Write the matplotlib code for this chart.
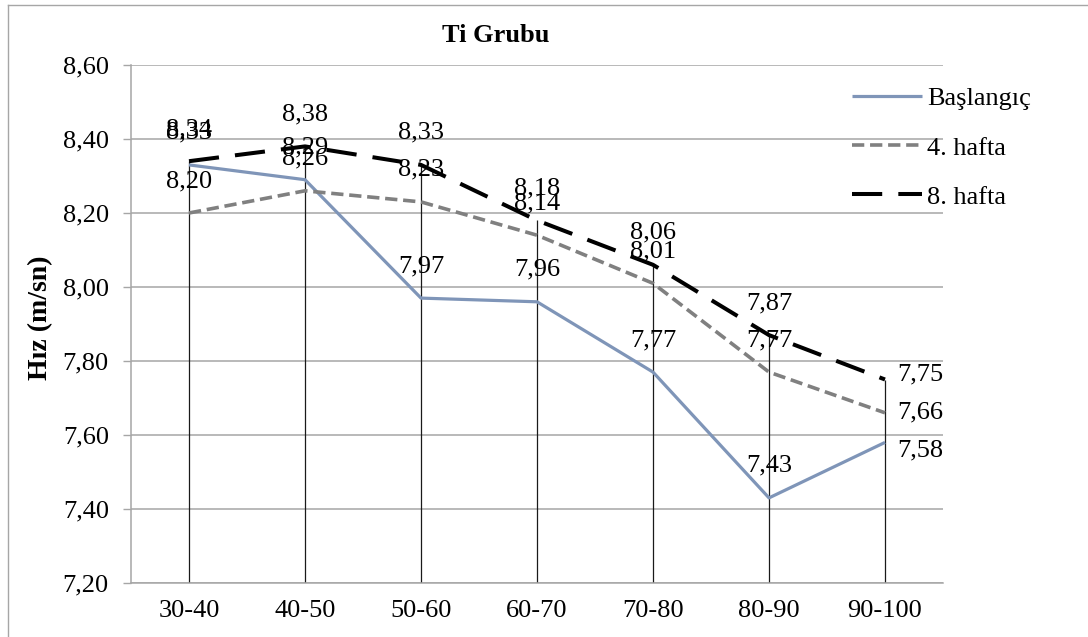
import matplotlib
matplotlib.use("Agg")
import matplotlib.pyplot as plt
from matplotlib.lines import Line2D

categories = ["30-40", "40-50", "50-60", "60-70", "70-80", "80-90", "90-100"]
baslangic = [8.33, 8.29, 7.97, 7.96, 7.77, 7.43, 7.58]
hafta4 = [8.20, 8.26, 8.23, 8.14, 8.01, 7.77, 7.66]
hafta8 = [8.34, 8.38, 8.33, 8.18, 8.06, 7.87, 7.75]
yticks = [7.20, 7.40, 7.60, 7.80, 8.00, 8.20, 8.40, 8.60]

plt.rcParams.update({
    "font.family": ["Liberation Serif", "DejaVu Serif"],
    "font.size": 19,
})

W, H = 1088, 637
fig = plt.figure(figsize=(W / 100, H / 100), dpi=100)
ax = fig.add_axes([131 / W, 54 / H, (943 - 131) / W, 518 / H])

x = list(range(len(categories)))
grid_c = "#a6a6a6"

# drop lines from the highest series down to the axis
tops = [max(a, b, c) for a, b, c in zip(baslangic, hafta4, hafta8)]
ax.vlines(x, yticks[0], tops, color="#1a1a1a", lw=0.9, zorder=2)

ax.plot(x, baslangic, color="#7f95b8", lw=2.3, solid_capstyle="butt",
        label="Başlangıç", zorder=3)
ax.plot(x, hafta4, color="#808080", lw=2.6, dashes=(3.4, 1.6),
        label="4. hafta", zorder=4)
ax.plot(x, hafta8, color="black", lw=2.9, dashes=(7.5, 4.0),
        label="8. hafta", zorder=5)

def fmt(v):
    return f"{v:.2f}".replace(".", ",")

last = len(categories) - 1
right_dy = {"b": -8, "4": 0, "8": 5}
for key, series in (("b", baslangic), ("4", hafta4), ("8", hafta8)):
    for i, v in enumerate(series):
        if i == last:
            ax.annotate(fmt(v), (i, v), xytext=(12, right_dy[key]),
                        textcoords="offset pixels", ha="left", va="center",
                        zorder=6)
        else:
            ax.annotate(fmt(v), (i, v), xytext=(0, 32),
                        textcoords="offset pixels", ha="center", va="center",
                        zorder=6)

ax.set_xlim(-0.5, len(categories) - 0.5)
ax.set_ylim(yticks[0], yticks[-1])
ax.set_yticks(yticks)
ax.set_yticklabels([fmt(t) for t in yticks])
ax.set_xticks(x)
ax.set_xticklabels(categories)

ax.grid(axis="y", color=grid_c, lw=1.1, zorder=0)
ax.set_axisbelow(True)
for side in ("top", "right"):
    ax.spines[side].set_visible(False)
for side in ("left", "bottom"):
    ax.spines[side].set_color(grid_c)
    ax.spines[side].set_linewidth(1.1)
ax.tick_params(axis="y", length=6, width=1.0, color=grid_c, pad=10)
ax.tick_params(axis="x", length=0, pad=12)

ax.set_ylabel("Hız (m/sn)", fontweight="bold", fontsize=20, va="center")
ax.yaxis.set_label_coords(41 / W, (H - 318) / H, transform=fig.transFigure)

fig.text(496 / W, 1 - 35 / H, "Ti Grubu", ha="center", va="center",
         fontweight="bold")

ax.legend(loc="upper left", bbox_to_anchor=(852 / W, 1 - 87 / H),
          bbox_transform=fig.transFigure, frameon=False, borderpad=0,
          borderaxespad=0, handlelength=2.65, handletextpad=0.2,
          labelspacing=0.97)

# chart frame
fig.add_artist(Line2D([8 / W, 8 / W], [0, 1 - 5 / H], color=grid_c, lw=1.0))
fig.add_artist(Line2D([8 / W, 1], [1 - 5 / H, 1 - 5 / H], color=grid_c, lw=1.0))

fig.savefig("out.png", dpi=100)
